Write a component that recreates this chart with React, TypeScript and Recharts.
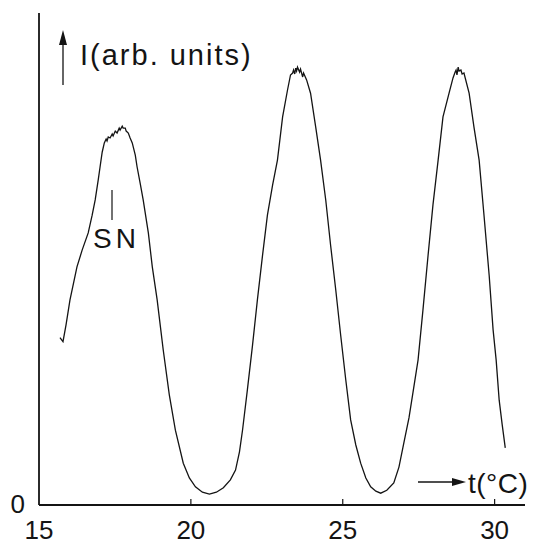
import { Line, LineChart, XAxis, YAxis } from "recharts"

// temperature (°C) and intensity (arb. units)
const temps = [
  15.69, 15.79, 15.89, 16.02, 16.25, 16.42, 16.62, 16.75, 16.85, 16.95, 17.01, 17.08, 17.15,
  17.21, 17.24, 17.28, 17.34, 17.41, 17.44, 17.51, 17.57, 17.64, 17.67, 17.74, 17.77, 17.84,
  17.87, 17.94, 18.0, 18.07, 18.17, 18.23, 18.33, 18.43, 18.6, 18.73, 18.89, 19.09, 19.29,
  19.49, 19.75, 19.95, 20.15, 20.38, 20.61, 20.84, 21.07, 21.3, 21.47, 21.6, 21.7, 21.86,
  22.03, 22.19, 22.36, 22.52, 22.69, 22.85, 23.02, 23.18, 23.28, 23.35, 23.38, 23.42, 23.45,
  23.48, 23.51, 23.58, 23.61, 23.68, 23.71, 23.81, 23.94, 24.11, 24.27, 24.44, 24.6, 24.77,
  24.93, 25.1, 25.26, 25.43, 25.59, 25.76, 25.92, 26.09, 26.25, 26.45, 26.68, 26.85, 27.01,
  27.18, 27.31, 27.48, 27.64, 27.81, 27.97, 28.14, 28.3, 28.5, 28.63, 28.7, 28.73, 28.76,
  28.8, 28.83, 28.89, 28.93, 28.99, 29.16, 29.32, 29.49, 29.65, 29.82, 29.95, 30.05, 30.15,
  30.25, 30.35,
]
const intensity = [
  34.0, 33.2, 36.6, 41.7, 48.4, 51.8, 55.3, 58.9, 62.0, 66.1, 68.7, 71.7, 73.6,
  74.4, 74.0, 74.8, 74.6, 75.4, 75.0, 76.0, 75.6, 76.6, 76.2, 77.0, 76.6, 76.6,
  76.0, 75.6, 74.6, 73.6, 71.1, 68.7, 65.4, 62.0, 55.3, 48.4, 41.7, 31.5, 22.4,
  15.2, 8.5, 5.5, 3.7, 2.6, 2.2, 2.6, 3.5, 5.1, 7.1, 10.8, 15.2, 23.4,
  32.5, 41.7, 50.8, 58.9, 65.0, 70.1, 78.9, 84.3, 87.4, 87.8, 88.4, 87.6, 88.8,
  88.2, 89.0, 88.0, 88.6, 87.0, 87.8, 86.4, 83.7, 76.8, 70.1, 62.0, 52.8, 43.7,
  34.6, 25.4, 17.3, 12.2, 8.5, 5.5, 3.7, 2.8, 2.4, 3.0, 4.5, 7.7, 12.6,
  17.7, 22.8, 29.5, 39.6, 50.8, 61.0, 70.1, 78.9, 83.7, 86.8, 88.0, 88.4, 87.4,
  89.0, 88.2, 88.4, 87.6, 87.8, 83.7, 76.8, 70.1, 58.9, 46.7, 35.6, 29.5, 21.3,
  16.3, 11.6,
]
const xTicks = [15, 20, 25, 30]
const yTicks = [0]

const data = temps.map((t, i) => ({ t, I: intensity[i] }))

const FONT = "'Liberation Sans', Arial, sans-serif"
const INK = "#141414"

function XTick({ x, y, payload }: any) {
  return (
    <g>
      {payload.value !== 15 && (
        <line x1={x} y1={y} x2={x} y2={y - 6} stroke={INK} strokeWidth={1.2} />
      )}
      <text x={x} y={y + 34} textAnchor="middle" fontFamily={FONT} fontSize={26} fill={INK}>
        {payload.value}
      </text>
    </g>
  )
}

function YTick({ x, y, payload }: any) {
  return (
    <text x={x - 14} y={y + 8} textAnchor="end" fontFamily={FONT} fontSize={26} fill={INK}>
      {payload.value}
    </text>
  )
}

export default function App() {
  return (
    <div style={{ position: "absolute", left: 0, top: 0, width: 537, height: 546, background: "#fff" }}>
      <LineChart width={537} height={546} data={data} margin={{ top: 13, right: 12, left: 0, bottom: 0 }}>
        <XAxis
          dataKey="t"
          type="number"
          domain={[15, 31]}
          ticks={xTicks}
          height={41}
          tickLine={false}
          tickSize={0}
          tickMargin={0}
          axisLine={{ stroke: INK, strokeWidth: 1.8 }}
          tick={<XTick />}
          allowDataOverflow
        />
        <YAxis
          type="number"
          domain={[0, 100]}
          ticks={yTicks}
          width={39}
          tickLine={false}
          tickSize={0}
          tickMargin={0}
          axisLine={{ stroke: INK, strokeWidth: 1.8 }}
          tick={<YTick />}
        />
        <Line
          dataKey="I"
          type="linear"
          stroke={INK}
          strokeWidth={1.3}
          dot={false}
          isAnimationActive={false}
        />
      </LineChart>
      <svg
        width={537}
        height={546}
        style={{ position: "absolute", left: 0, top: 0, pointerEvents: "none" }}
      >
        {/* y axis label with arrow */}
        <line x1={63} y1={85} x2={63} y2={40} stroke={INK} strokeWidth={1.3} />
        <polygon points="59,45 67,45 63,30" fill={INK} />
        <text x={80} y={65} fontFamily={FONT} fontSize={29} fill={INK} letterSpacing={2}>
          I(arb. units)
        </text>
        {/* x axis label with arrow */}
        <line x1={418} y1={482} x2={455} y2={482} stroke={INK} strokeWidth={1.3} />
        <polygon points="452,478 452,486 466,482" fill={INK} />
        <text x={468} y={493} fontFamily={FONT} fontSize={28} fill={INK} letterSpacing={0.5}>
          t(°C)
        </text>
        {/* SN marker */}
        <line x1={112} y1={190} x2={112} y2={220} stroke={INK} strokeWidth={1.2} />
        <text x={93} y={248} fontFamily={FONT} fontSize={28} fill={INK} letterSpacing={4}>
          SN
        </text>
      </svg>
    </div>
  )
}
